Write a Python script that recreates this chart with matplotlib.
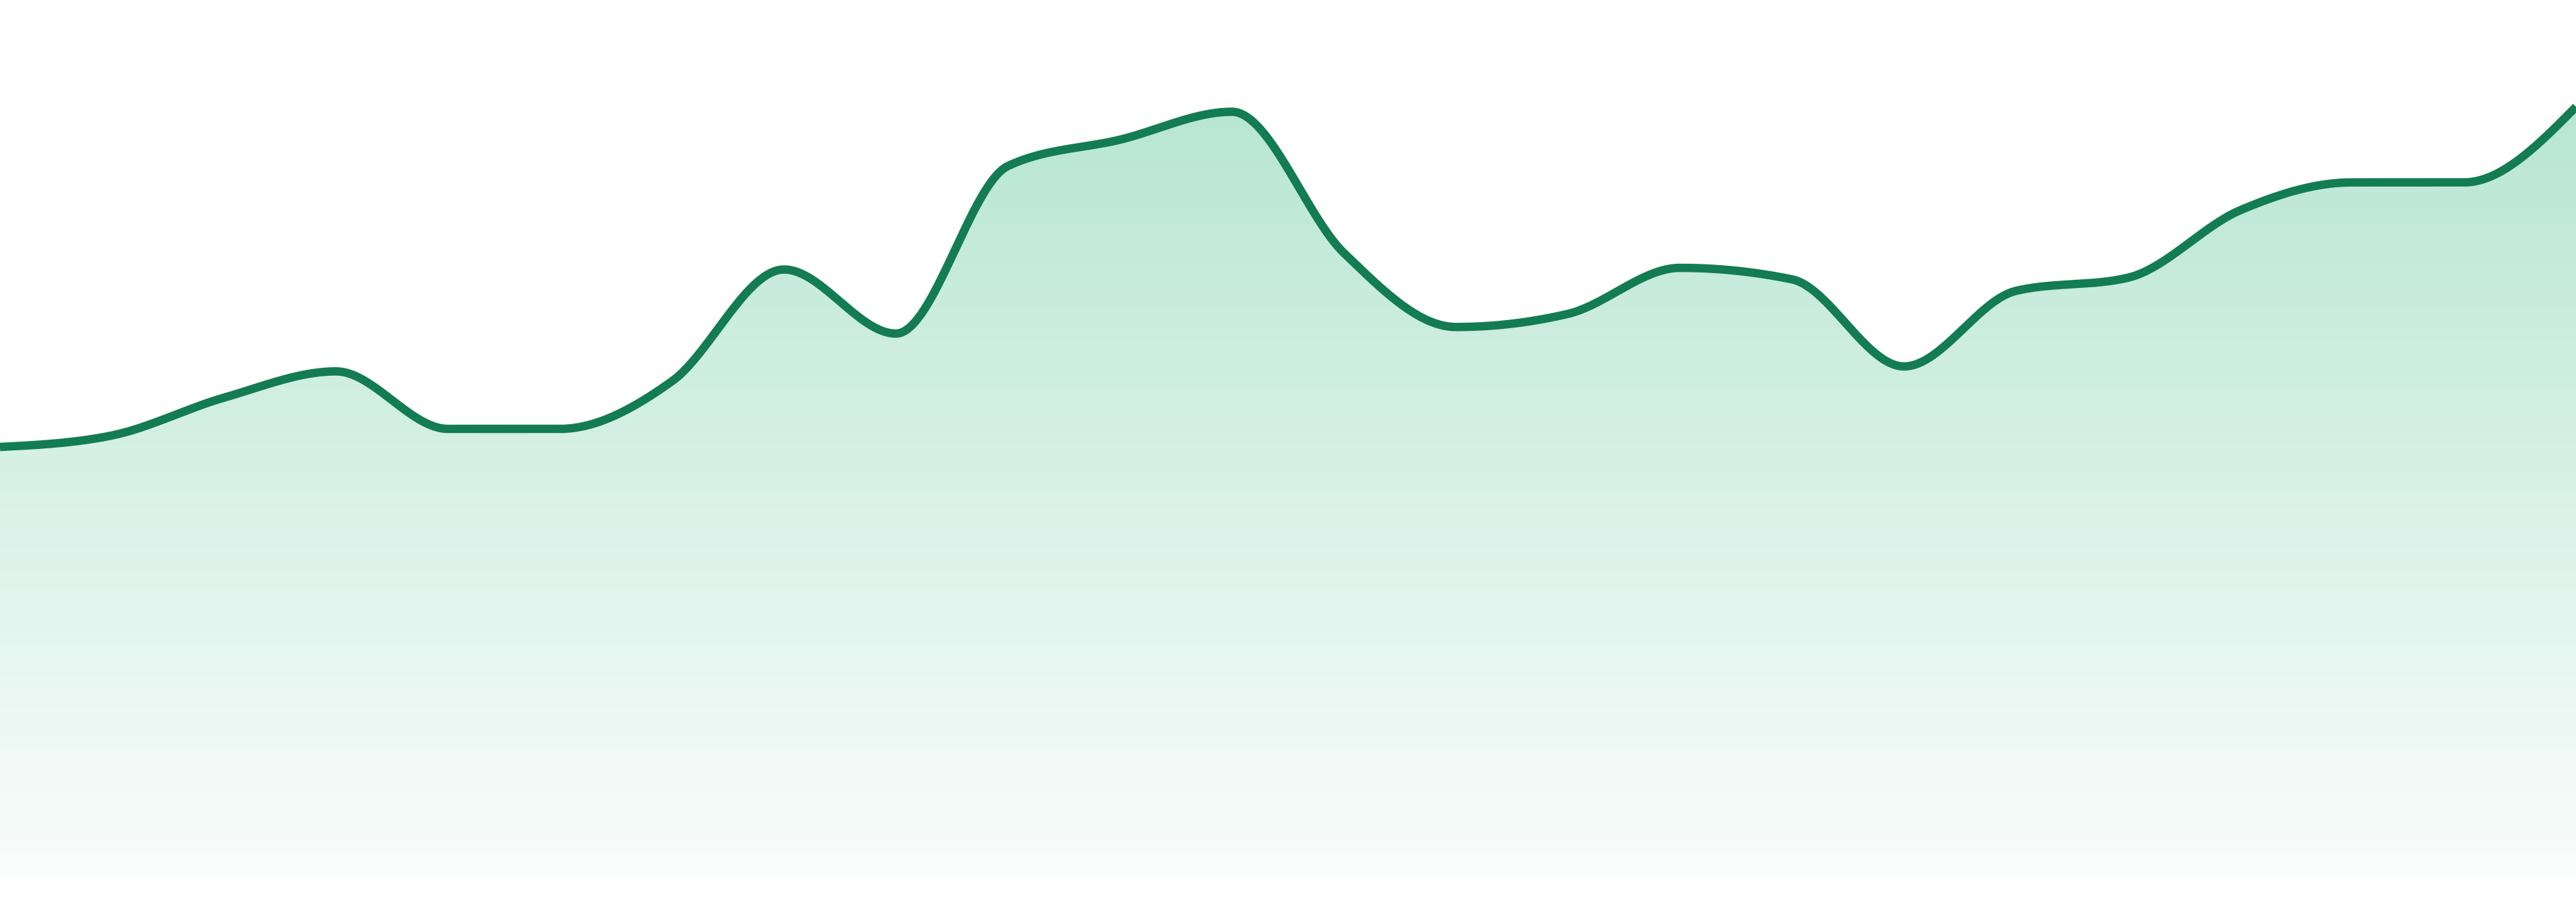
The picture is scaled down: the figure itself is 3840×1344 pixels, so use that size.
import numpy as np
import matplotlib
matplotlib.use("Agg")
import matplotlib.pyplot as plt
from matplotlib.patches import Polygon

# data (index positions, values)
idx = list(range(24))
values = [261, 268, 291, 307, 272, 272, 301, 369, 330, 432, 448, 465,
          379, 334, 342, 370, 363, 310, 356, 364, 405, 422, 422, 468]

LINE_COLOR = "#137c52"
TOP_RGB = (184/255, 230/255, 212/255)
BOT_RGB = (250/255, 253/255, 252/255)


def monotone_x(x, y, n=40):
    x = np.asarray(x, float)
    y = np.asarray(y, float)
    h = np.diff(x)
    s = np.diff(y) / h
    t = np.zeros_like(y)
    for i in range(1, len(x) - 1):
        s0, s1 = s[i - 1], s[i]
        p = (s0 * h[i] + s1 * h[i - 1]) / (h[i - 1] + h[i])
        t[i] = (np.sign(s0) + np.sign(s1)) * min(abs(s0), abs(s1), 0.5 * abs(p))
    t[0] = (3 * s[0] - t[1]) / 2
    t[-1] = (3 * s[-1] - t[-2]) / 2
    xs, ys = [], []
    for i in range(len(x) - 1):
        u = np.linspace(0, 1, n, endpoint=(i == len(x) - 2))
        h00 = 2*u**3 - 3*u**2 + 1
        h10 = u**3 - 2*u**2 + u
        h01 = -2*u**3 + 3*u**2
        h11 = u**3 - u**2
        xs.append(x[i] + u * h[i])
        ys.append(h00*y[i] + h10*h[i]*t[i] + h01*y[i+1] + h11*h[i]*t[i+1])
    return np.concatenate(xs), np.concatenate(ys)


W, H = 3840, 1344
fig = plt.figure(figsize=(W/100, H/100), dpi=100)
fig.patch.set_facecolor("white")
bottom_px = 1305
ax = fig.add_axes([0, (H - bottom_px)/H, 1, bottom_px/H])
ax.set_xlim(0, 23)
ax.set_ylim(0, 533)
ax.axis("off")

xs, ys = monotone_x(idx, values)

ymax = max(values)
grad = np.linspace(0, 1, 512)[:, None]  # 0 bottom -> 1 top
img = np.zeros((512, 1, 3))
for c in range(3):
    img[..., c] = BOT_RGB[c] + (TOP_RGB[c] - BOT_RGB[c]) * grad
im = ax.imshow(img, extent=[0, 23, 0, ymax], origin="lower", aspect="auto",
               interpolation="bilinear", zorder=1)
poly = Polygon(np.column_stack([np.r_[xs, xs[-1], xs[0]], np.r_[ys, 0, 0]]),
               closed=True, facecolor="none", edgecolor="none")
ax.add_patch(poly)
im.set_clip_path(poly)

ax.plot(xs, ys, color=LINE_COLOR, lw=9.0, solid_capstyle="butt",
        solid_joinstyle="round", zorder=3)

fig.savefig("out.png", dpi=100, facecolor="white")
